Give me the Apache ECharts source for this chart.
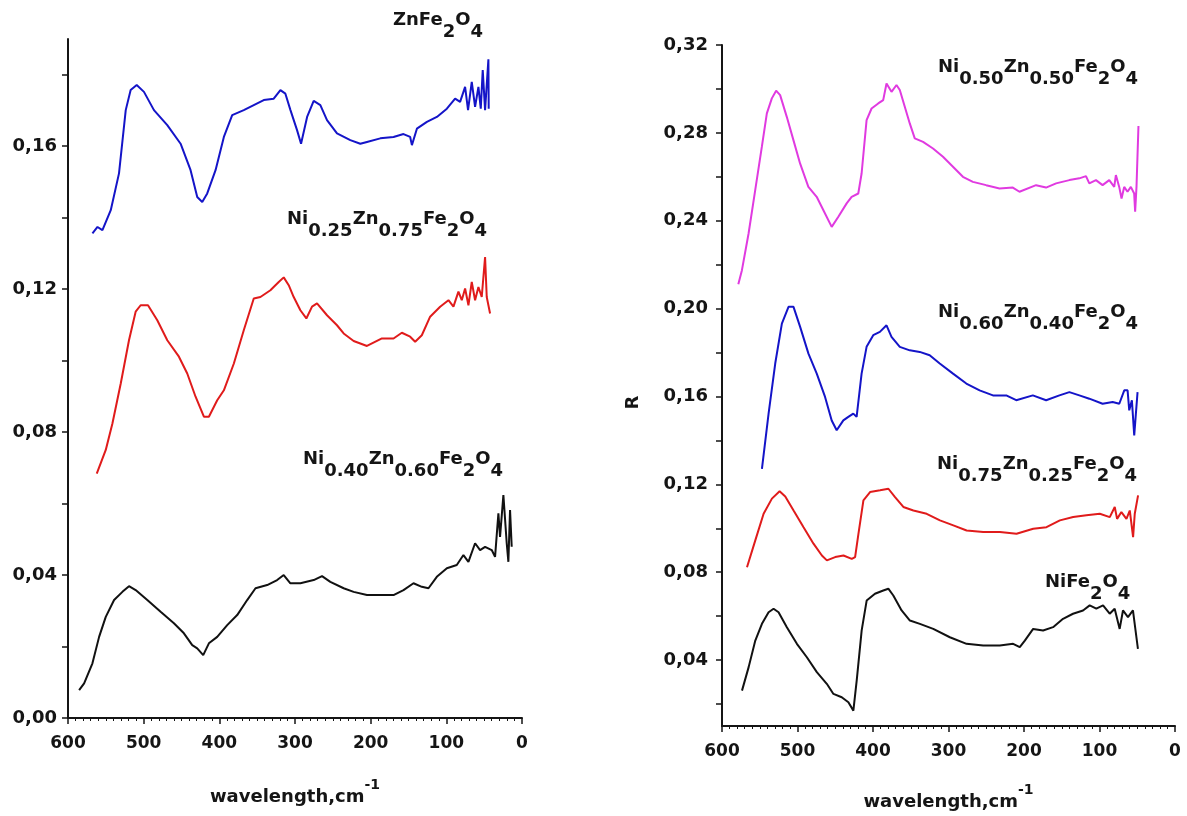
<!DOCTYPE html>
<html>
<head>
<meta charset="utf-8">
<script src="https://cdn.jsdelivr.net/npm/echarts@6/dist/echarts.min.js"></script>
<style>
html,body{margin:0;padding:0;background:#fff;}
#chart{width:1187px;height:816px;}
</style>
</head>
<body>
<div id="chart"></div>
<script>
// ---------- data (wavenumber cm-1, R) ----------
const znWave = [567.7,561,554.5,543.5,532.6,523.7,517.2,509.2,499.6,486.4,468.8,451.2,438,429.2,422.6,416,405,394,383,367.7,354.5,341.3,328.1,319.3,312.7,306,297.3,292,284,275.3,266.5,257.7,244.5,226.9,213.7,204.9,187.3,169.8,156.6,147.8,145.5,138.9,125.7,112.5,99.3,88.4,81.8,75.2,71.3,66.4,62,57.6,54.5,51.9,48.8,44.4,44];
const znR = [0.1356,0.1374,0.1365,0.1421,0.1524,0.1701,0.1757,0.1771,0.1752,0.1701,0.1659,0.1607,0.1533,0.1458,0.1444,0.1468,0.1533,0.1626,0.1687,0.1701,0.1715,0.1729,0.1733,0.1757,0.1747,0.1701,0.1645,0.1607,0.1682,0.1727,0.1715,0.1673,0.1636,0.1617,0.1607,0.1612,0.1622,0.1626,0.1634,0.1626,0.1603,0.1649,0.1668,0.1682,0.1705,0.1733,0.1724,0.1766,0.1701,0.178,0.171,0.1766,0.1705,0.1813,0.1701,0.1843,0.1705];

const ni25Wave = [562,550.1,541.3,530.3,519.4,510.6,504,494.3,482,468.8,453.4,442.4,431.4,420.4,413.8,402.8,394,380.8,367.7,354.5,345.7,332.5,321.5,314.9,308.3,301.7,292.9,285,277.5,270.9,257.7,244.5,235.7,222.5,204.9,185.1,169.8,158.8,147.8,141.2,132.4,121.4,108.2,97.2,90.6,84,79.6,75.2,70.8,66.4,62,57.6,53.2,48.8,46.6,42.2];
const ni25R = [0.0684,0.075,0.0824,0.0936,0.1057,0.1137,0.1155,0.1155,0.1113,0.1057,0.1011,0.0964,0.0899,0.0843,0.0843,0.0889,0.0917,0.0992,0.1085,0.1174,0.1178,0.1197,0.122,0.1233,0.1211,0.1178,0.1141,0.1118,0.1151,0.116,0.1127,0.1099,0.1076,0.1055,0.1041,0.1062,0.1062,0.1078,0.1067,0.1053,0.1071,0.1123,0.1151,0.1169,0.1151,0.1193,0.1169,0.1202,0.1155,0.122,0.1169,0.1206,0.1178,0.129,0.1178,0.1132];

const ni40Wave = [585.3,578.7,567.7,558.9,550.1,539.1,528.1,519.4,510.6,495.2,477.6,460,446.8,435.8,429.2,421.3,413.8,402.8,389.6,376.4,363.2,352.2,336.8,323.6,314.9,306.1,292.9,275.3,264.3,253.3,235.7,222.5,204.9,187.3,169.8,156.6,143.4,132.4,123.6,112.6,99.3,86.2,77.4,70.8,62,55.4,48.8,40,35.6,31.2,29,24.6,20.2,18,15.8,13.6];
const ni40R = [0.0078,0.0097,0.0153,0.0227,0.0283,0.033,0.0353,0.0369,0.0358,0.033,0.0297,0.0265,0.0237,0.0204,0.0195,0.0176,0.0209,0.0227,0.026,0.0288,0.033,0.0363,0.0372,0.0386,0.04,0.0377,0.0377,0.0386,0.0397,0.0381,0.0363,0.0353,0.0344,0.0344,0.0344,0.0358,0.0377,0.0367,0.0363,0.0395,0.0419,0.0428,0.0456,0.0437,0.0489,0.047,0.0479,0.047,0.0451,0.0573,0.0507,0.0624,0.0489,0.0437,0.0582,0.0479];

const ni50Wave = [578.4,573.6,564.8,556,547.2,540.6,534,528.3,523,514.2,505.4,496.6,485.6,474.6,465.7,454.7,445.9,434.9,428.3,419.5,415.1,408.5,401.9,393.1,386.5,382.1,375.5,368.9,364.5,357.9,351.3,344.7,333.7,320.5,307.3,294.1,280.9,267.7,250.1,232.4,214.8,206,184,170.8,157.5,139.9,126.7,117.9,113.5,104.7,95.9,87.1,80.5,78.3,73.9,70.8,67.3,62.9,58.5,54.1,52.8,51,48.4];
const ni50R = [0.2111,0.2175,0.2342,0.2539,0.2737,0.2889,0.2957,0.2992,0.2972,0.2873,0.2767,0.2661,0.2554,0.2509,0.2448,0.2372,0.2418,0.2479,0.2509,0.2524,0.2615,0.2858,0.2911,0.2934,0.2949,0.3025,0.2987,0.3018,0.2995,0.2919,0.2843,0.2775,0.2759,0.2729,0.2691,0.2646,0.26,0.2577,0.2562,0.2547,0.2551,0.2532,0.2562,0.2551,0.257,0.2585,0.2593,0.2603,0.257,0.2585,0.2562,0.2585,0.2554,0.2608,0.2554,0.2501,0.2554,0.2532,0.2554,0.2524,0.2441,0.2554,0.2831];

const ni60Wave = [547.1,538.3,529.5,520.7,511.9,505.3,496.5,485.5,474.5,463.5,454.7,448.1,439.3,432.7,426.1,421.7,415.1,408.5,399.7,390.9,382.1,375.5,364.5,351.3,338.1,324.9,311.6,294,276.4,258.8,241.1,223.5,210.3,188.3,170.7,153.1,139.9,126.7,113.5,95.9,82.6,73.8,67.2,62.8,60.6,57.1,54,51.8,49.6];
const ni60R = [0.1271,0.1522,0.175,0.1932,0.2008,0.2008,0.1917,0.1795,0.1704,0.1598,0.1491,0.1446,0.1491,0.1507,0.1522,0.1507,0.1704,0.1826,0.1879,0.1894,0.1924,0.1871,0.1826,0.181,0.1803,0.1788,0.175,0.1704,0.1659,0.1628,0.1605,0.1605,0.1583,0.1605,0.1583,0.1605,0.162,0.1605,0.159,0.1567,0.1575,0.1567,0.1628,0.1628,0.1537,0.1583,0.1423,0.1522,0.162];

const ni75Wave = [566.9,555.9,544.9,533.9,523.7,516.2,505.2,492,478.8,467.7,461.1,450.1,439.1,428.1,423.7,419.3,412.7,403.9,390.6,379.6,370.8,359.8,346.5,328.9,311.3,293.6,276,254,231.9,209.9,187.8,170.2,152.5,134.9,117.3,99.6,86.4,79.8,76.7,71,64.3,59.9,55.5,53.3,48.9];
const ni75R = [0.0823,0.0945,0.1066,0.1135,0.1169,0.1145,0.1081,0.1005,0.093,0.0876,0.0854,0.0869,0.0876,0.0861,0.0869,0.0975,0.1127,0.1165,0.1173,0.118,0.1142,0.1097,0.1081,0.1066,0.1036,0.1013,0.099,0.0983,0.0983,0.0975,0.0998,0.1005,0.1036,0.1051,0.1059,0.1066,0.1051,0.1097,0.1043,0.1074,0.1043,0.1081,0.096,0.1066,0.115];

const niWave = [573.5,564.7,555.9,547.1,538.3,531.7,525.1,514.1,500.8,487.6,474.4,461.2,452.4,441.4,432.6,426,421.6,415,408.4,397.4,386.4,379.7,373.1,362.1,351.1,337.9,320.2,298.2,276.1,254.1,232,214.4,205.6,198.9,187.9,174.7,161.5,148.3,135.1,121.8,113,104.2,95.3,86.5,79.9,73.3,68.9,62.3,55.7,49.1];
const niR = [0.0261,0.0368,0.0489,0.0565,0.0618,0.0634,0.0618,0.055,0.0474,0.0413,0.0345,0.0292,0.0246,0.0231,0.0208,0.017,0.0307,0.0535,0.0671,0.0702,0.0717,0.0725,0.0694,0.0626,0.058,0.0565,0.0542,0.0504,0.0474,0.0466,0.0466,0.0474,0.0459,0.0489,0.0542,0.0535,0.055,0.0588,0.0611,0.0626,0.0649,0.0634,0.0649,0.0611,0.0634,0.0542,0.0626,0.0596,0.0626,0.0451];

// axis ticks / labels
const leftYTicks = [0,0.02,0.04,0.06,0.08,0.10,0.12,0.14,0.16,0.18];
const leftYLabels = [0,0.04,0.08,0.12,0.16];
const rightYTicks = [0.02,0.04,0.06,0.08,0.10,0.12,0.14,0.16,0.18,0.20,0.22,0.24,0.26,0.28,0.30,0.32];
const rightYLabels = [0.04,0.08,0.12,0.16,0.20,0.24,0.28,0.32];

// series labels (rich text)
const labelZn   = '{m|ZnFe}{s|2}{m|O}{s|4}';
const label25   = '{m|Ni}{s|0.25}{m|Zn}{s|0.75}{m|Fe}{s|2}{m|O}{s|4}';
const label40   = '{m|Ni}{s|0.40}{m|Zn}{s|0.60}{m|Fe}{s|2}{m|O}{s|4}';
const label50   = '{m|Ni}{s|0.50}{m|Zn}{s|0.50}{m|Fe}{s|2}{m|O}{s|4}';
const label60   = '{m|Ni}{s|0.60}{m|Zn}{s|0.40}{m|Fe}{s|2}{m|O}{s|4}';
const label75   = '{m|Ni}{s|0.75}{m|Zn}{s|0.25}{m|Fe}{s|2}{m|O}{s|4}';
const labelNi   = '{m|NiFe}{s|2}{m|O}{s|4}';
const xName = '{m|wavelength,cm}{p|-1}';
const yName = 'R';

// ---------- build ----------
const FONT = 'DejaVu Sans';
const INK = '#151515';
const zip = (a, b) => a.map((v, i) => [v, b[i]]);
const fmt = v => v.toFixed(2).replace('.', ',');

const subRich = {
  m: {fontFamily: FONT, fontWeight: 'bold', fontSize: 18, color: INK, verticalAlign: 'top', lineHeight: 30},
  s: {fontFamily: FONT, fontWeight: 'bold', fontSize: 18, color: INK, verticalAlign: 'bottom', lineHeight: 30}
};
const nameRich = {
  m: {fontFamily: FONT, fontWeight: 'bold', fontSize: 18, color: INK, verticalAlign: 'bottom', lineHeight: 28},
  p: {fontFamily: FONT, fontWeight: 'bold', fontSize: 14, color: INK, verticalAlign: 'top', lineHeight: 28}
};
function mkTitle(text, left, top) {
  return {text: text, left: left, top: top, padding: 0, textStyle: {rich: subRich}};
}
function mkX(gridIndex, gap) {
  return {
    type: 'value', gridIndex: gridIndex, min: 0, max: 600, interval: 100, inverse: true,
    axisLine: {show: true, onZero: false, lineStyle: {color: INK, width: 2}},
    axisTick: {show: true, inside: false, length: 6, lineStyle: {color: INK, width: 1.5}},
    minorTick: {show: true, splitNumber: 10, length: 3, lineStyle: {color: INK, width: 1}},
    splitLine: {show: false}, minorSplitLine: {show: false},
    axisLabel: {fontFamily: FONT, fontWeight: 'bold', fontSize: 17, color: INK, margin: 17},
    name: xName, nameLocation: 'middle', nameGap: gap,
    nameTextStyle: {rich: nameRich}
  };
}
function mkY(gridIndex, min, max, ticks, labels, margin, extra) {
  return Object.assign({
    type: 'value', gridIndex: gridIndex, min: min, max: max,
    axisLine: {show: true, onZero: false, lineStyle: {color: INK, width: 2}},
    axisTick: {show: true, inside: false, length: 6, customValues: ticks, lineStyle: {color: INK, width: 1.5}},
    splitLine: {show: false},
    axisLabel: {customValues: labels, formatter: fmt, fontFamily: FONT, fontWeight: 'bold', fontSize: 18, color: INK, margin: margin}
  }, extra || {});
}
function mkLine(name, x, y, color, xi) {
  return {
    name: name, type: 'line', xAxisIndex: xi, yAxisIndex: xi,
    data: zip(x, y), showSymbol: false, symbol: 'none',
    lineStyle: {color: color, width: 2}, silent: true
  };
}

const chart = echarts.init(document.getElementById('chart'), null, {renderer: 'canvas'});
chart.setOption({
  backgroundColor: '#ffffff',
  animation: false,
  title: [
    mkTitle(labelZn, 393, 11),
    mkTitle(label25, 287, 210),
    mkTitle(label40, 303, 450),
    mkTitle(label50, 938, 58),
    mkTitle(label60, 938, 303),
    mkTitle(label75, 937, 455),
    mkTitle(labelNi, 1045, 573)
  ],
  grid: [
    {left: 68, right: 665, top: 39, bottom: 98},
    {left: 722, right: 12, top: 45, bottom: 90}
  ],
  xAxis: [mkX(0, 60), mkX(1, 57)],
  yAxis: [
    mkY(0, 0, 0.19, leftYTicks, leftYLabels, 11),
    mkY(1, 0.01, 0.32, rightYTicks, rightYLabels, 14, {
      name: yName, nameLocation: 'middle', nameGap: 80, nameRotate: 90,
      nameTextStyle: {fontFamily: FONT, fontWeight: 'bold', fontSize: 18, color: INK, padding: [0, 34, 0, 0]}
    })
  ],
  series: [
    mkLine('ZnFe2O4', znWave, znR, '#1414c8', 0),
    mkLine('Ni0.25Zn0.75Fe2O4', ni25Wave, ni25R, '#e01b1b', 0),
    mkLine('Ni0.40Zn0.60Fe2O4', ni40Wave, ni40R, '#111111', 0),
    mkLine('Ni0.50Zn0.50Fe2O4', ni50Wave, ni50R, '#e03ae0', 1),
    mkLine('Ni0.60Zn0.40Fe2O4', ni60Wave, ni60R, '#1414c8', 1),
    mkLine('Ni0.75Zn0.25Fe2O4', ni75Wave, ni75R, '#e01b1b', 1),
    mkLine('NiFe2O4', niWave, niR, '#111111', 1)
  ]
});
</script>
</body>
</html>
